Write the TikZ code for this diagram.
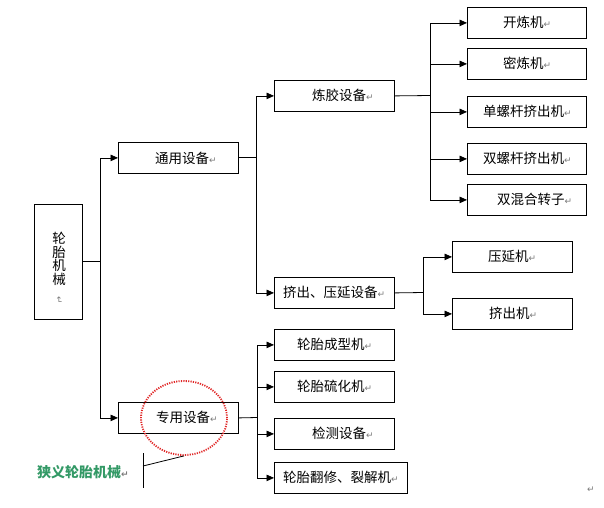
\documentclass[tikz,border=0pt]{standalone}
\usepackage{fontspec}
\setmainfont{Noto Sans CJK SC}
\newfontfamily\symf{DejaVu Sans}
\usetikzlibrary{arrows.meta,shapes.geometric}
\definecolor{lblgreen}{HTML}{339966}
\definecolor{markgray}{HTML}{7A7A7A}
\definecolor{ringred}{HTML}{E02828}
\newcommand{\rmk}{{\symf\fontsize{9}{9}\selectfont\color{markgray}↵}}
\newcommand{\bx}[5]{\node[box, minimum width={#4pt-#2pt}, minimum height={#5pt-#3pt}] (#1) at (#2,#3) {};}
\begin{document}
\begin{tikzpicture}[x=1pt,y=-1pt,
  box/.style={draw, line width=0.8pt, inner sep=0pt, anchor=north west},
  txt/.style={anchor=west, inner sep=0pt, font=\fontsize{13.5}{13.5}\selectfont},
  arr/.style={-{Triangle[length=7.5pt,width=6.5pt]}, line width=0.8pt},
  ln/.style={line width=0.8pt}]
\useasboundingbox (0,0) rectangle (604,507);
% boxes
\bx{root}{34}{204}{82}{319}
\bx{ty}{118}{142}{238}{173}
\bx{lj}{274}{80}{394}{111}
\bx{k1}{467}{7}{586}{38}
\bx{k2}{467}{48}{586}{79}
\bx{k3}{467}{96}{586}{127}
\bx{k4}{467}{143}{586}{174}
\bx{k5}{467}{184}{586}{215}
\bx{jc}{274}{277}{394}{308}
\bx{y1}{452}{241}{572}{272}
\bx{y2}{452}{298}{572}{329}
\bx{zy}{118}{402}{238}{433}
\bx{z1}{274}{329}{394}{360}
\bx{z2}{274}{371}{394}{402}
\bx{z3}{274}{418}{394}{449}
\bx{z4}{274}{462}{407}{493}
% texts
\node[txt] (tty) at (155,158) {通用设备\rmk};
\node[txt] (tlj) at (312,95.5) {炼胶设备\rmk};
\node[txt] (tk1) at (503,22.5) {开炼机\rmk};
\node[txt] (tk2) at (503,63.5) {密炼机\rmk};
\node[txt] (tk3) at (483,111.5) {单螺杆挤出机\rmk};
\node[txt] (tk4) at (483,158.5) {双螺杆挤出机\rmk};
\node[txt] (tk5) at (497,199.5) {双混合转子\rmk};
\node[txt] (tjc) at (283,292.5) {挤出、压延设备\rmk};
\node[txt] (ty1) at (488,256.5) {压延机\rmk};
\node[txt] (ty2) at (489,313.5) {挤出机\rmk};
\node[txt] (tzy) at (156,417.5) {专用设备\rmk};
\node[txt] (tz1) at (297,344.5) {轮胎成型机\rmk};
\node[txt] (tz2) at (297,386.5) {轮胎硫化机\rmk};
\node[txt] (tz3) at (312,433.5) {检测设备\rmk};
\node[txt] (tz4) at (283,477.5) {轮胎翻修、裂解机\rmk};
\node[inner sep=0pt, align=center, font=\fontsize{13.5}{13.8}\selectfont] (troot) at (59,268)
  {轮\\胎\\机\\械\\[-2pt]\rotatebox{-90}{\rmk}};
% branch points
\coordinate (b0) at (100,261.5);
\coordinate (b1) at (256,157.5);
\coordinate (b2) at (430,95.5);
\coordinate (b3) at (423,292.5);
\coordinate (b4) at (257,417.5);
% connectors
\draw[ln] (root.east |- b0) -- (b0);
\draw[arr] (b0) |- (ty.west);
\draw[arr] (b0) |- (zy.west);
\draw[ln] (ty.east |- b1) -- (b1);
\draw[arr] (b1) |- (lj.west);
\draw[arr] (b1) |- (jc.west);
\draw[ln] (lj.east) -- (b2);
\foreach \n in {k1,k2,k3,k4,k5} \draw[arr] (b2) |- (\n.west);
\draw[ln] (jc.east) -- (b3);
\foreach \n in {y1,y2} \draw[arr] (b3) |- (\n.west);
\draw[ln] (zy.east) -- (b4);
\foreach \n in {z1,z2,z3,z4} \draw[arr] (b4) |- (\n.west);
% red dotted ring and label
\node[ellipse, draw=ringred, line width=1.8pt, dash pattern=on 1.2pt off 1.2pt,
  minimum width=86pt, minimum height=74pt, inner sep=0pt] (ring) at (184,418) {};
\coordinate (bt) at (143,453);
\coordinate (bb) at (143,488);
\coordinate (lp) at (143,466);
\draw[line width=0.9pt] (bt) -- (bb);
\draw[line width=0.8pt] (lp) -- (ring.south);
\node[anchor=west, inner sep=0pt, font=\fontsize{14}{14}\selectfont\bfseries, text=lblgreen] (glbl) at (37,472) {狭义轮胎机械\rmk};
\node[inner sep=0pt] (endmark) at (591,490) {\rmk};
\end{tikzpicture}
\end{document}
